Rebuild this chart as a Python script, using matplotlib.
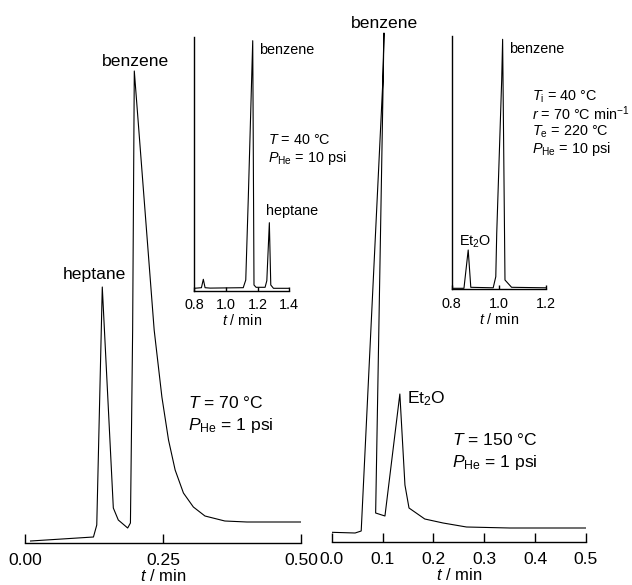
import matplotlib
matplotlib.use("Agg")
import matplotlib.pyplot as plt

plt.rcParams['font.family'] = ['Liberation Sans', 'DejaVu Sans']
plt.rcParams['mathtext.fontset'] = 'custom'
plt.rcParams['mathtext.rm'] = 'Liberation Sans'
plt.rcParams['mathtext.it'] = 'Liberation Sans:italic'

# chromatogram traces (t in min, signal in arbitrary units)
t_70 = [0.01, 0.124, 0.130, 0.140, 0.160, 0.169, 0.186, 0.191, 0.195, 0.198,
        0.234, 0.248, 0.260, 0.272, 0.287, 0.305, 0.326, 0.362, 0.402, 0.50]
s_70 = [2, 6, 18, 256, 35, 23, 15, 20, 213, 472,
        213, 146, 103, 73, 50, 36, 27, 22, 21, 21]

t_150 = [0.0, 0.046, 0.058, 0.1002, 0.1028, 0.0864, 0.1047, 0.134, 0.144,
         0.152, 0.183, 0.219, 0.265, 0.350, 0.50]
s_150 = [9.7, 9, 11, 457, 509, 29, 26, 148, 57,
         34, 23, 19, 15, 14, 14]

t_40 = [0.80, 0.845, 0.857, 0.868, 0.90, 1.109, 1.125, 1.141, 1.169, 1.177,
        1.19, 1.247, 1.258, 1.274, 1.283, 1.30, 1.40]
s_40 = [2.4, 3, 11.4, 3, 2.6, 3, 10.7, 92.7, 250, 5.7,
        3.4, 3.4, 10, 68, 5.7, 2.4, 2.4]

t_ramp = [0.80, 0.852, 0.870, 0.881, 0.976, 0.987, 0.991, 1.012, 1.016, 1.026,
          1.054, 1.20]
s_ramp = [1, 1, 39.3, 2, 1.5, 12.6, 56, 209, 250, 9.3,
          2, 1.5]

ticks_70 = [0.0, 0.25, 0.5]
labels_70 = ['0.00', '0.25', '0.50']
ticks_150 = [0.0, 0.1, 0.2, 0.3, 0.4, 0.5]
ticks_40 = [0.8, 1.0, 1.2, 1.4]
ticks_ramp = [0.8, 1.0, 1.2]

BIG = 12.6
SMALL = 10.4


def style_main(ax, ticks, labels):
    for s in ['left', 'right', 'top']:
        ax.spines[s].set_visible(False)
    ax.spines['bottom'].set_linewidth(1.0)
    ax.set_yticks([])
    ax.set_xticks(ticks)
    ax.set_xticklabels(labels)
    ax.tick_params(axis='x', direction='in', length=6.5, width=1.0,
                   labelsize=BIG, pad=7.5)
    ax.set_xlabel(r'$t$ / min', fontsize=12, labelpad=-0.5)
    ax.patch.set_alpha(0)


def style_inset(ax, ticks):
    for s in ['right', 'top']:
        ax.spines[s].set_visible(False)
    ax.spines['bottom'].set_linewidth(1.0)
    ax.spines['left'].set_linewidth(1.0)
    ax.set_yticks([])
    ax.set_xticks(ticks)
    ax.set_xticklabels(['%.1f' % v for v in ticks])
    ax.tick_params(axis='x', direction='in', length=3, width=1.0,
                   labelsize=SMALL, pad=5.5)
    ax.set_xlabel(r'$t$ / min', fontsize=SMALL, labelpad=0.5)
    ax.patch.set_alpha(0)


fig = plt.figure(figsize=(6.32, 5.85), dpi=100)

# left main: 70 C isothermal
ax1 = fig.add_axes([25 / 632, 42 / 585, 276 / 632, 503 / 585])
ax1.plot(t_70, s_70, color='black', lw=0.8)
ax1.set_xlim(0, 0.5)
ax1.set_ylim(0, 503)
style_main(ax1, ticks_70, labels_70)
ax1.text(0.200, 477, 'benzene', fontsize=BIG, ha='center', va='baseline')
ax1.text(0.125, 264, 'heptane', fontsize=BIG, ha='center', va='baseline')
ax1.text(0.296, 135, r'$T$ = 70 °C', fontsize=BIG, ha='left', va='baseline')
ax1.text(0.296, 113, r'$P_{\mathrm{He}}$ = 1 psi', fontsize=BIG, ha='left', va='baseline')

# right main: 150 C isothermal
ax2 = fig.add_axes([331.7 / 632, 43 / 585, 254.3 / 632, 522 / 585])
ax2.plot(t_150, s_150, color='black', lw=0.8)
ax2.set_xlim(0, 0.5)
ax2.set_ylim(0, 522)
style_main(ax2, ticks_150, ['%.1f' % v for v in ticks_150])
ax2.text(0.1037, 514, 'benzene', fontsize=BIG, ha='center', va='baseline')
ax2.text(0.149, 139, r'Et$_{2}$O', fontsize=BIG, ha='left', va='baseline')
ax2.text(0.236, 97, r'$T$ = 150 °C', fontsize=BIG, ha='left', va='baseline')
ax2.text(0.236, 75, r'$P_{\mathrm{He}}$ = 1 psi', fontsize=BIG, ha='left', va='baseline')

# left inset: 40 C
ax3 = fig.add_axes([194.3 / 632, 294.3 / 585, 95 / 632, 253.4 / 585])
ax3.plot(t_40, s_40, color='black', lw=0.8)
ax3.set_xlim(0.8, 1.4)
ax3.set_ylim(0, 253.4)
style_inset(ax3, ticks_40)
ax3.text(1.209, 237, 'benzene', fontsize=SMALL, ha='left', va='baseline')
ax3.text(1.253, 76, 'heptane', fontsize=SMALL, ha='left', va='baseline')
ax3.text(1.267, 147, r'$T$ = 40 °C', fontsize=SMALL, ha='left', va='baseline')
ax3.text(1.267, 129, r'$P_{\mathrm{He}}$ = 10 psi', fontsize=SMALL, ha='left', va='baseline')

# right inset: temperature ramp
ax4 = fig.add_axes([451.7 / 632, 295.7 / 585, 94.3 / 632, 253.3 / 585])
ax4.plot(t_ramp, s_ramp, color='black', lw=0.8)
ax4.set_xlim(0.8, 1.2)
ax4.set_ylim(0, 253.3)
style_inset(ax4, ticks_ramp)
ax4.text(1.043, 236, 'benzene', fontsize=SMALL, ha='left', va='baseline')
ax4.text(0.832, 44, r'Et$_{2}$O', fontsize=SMALL, ha='left', va='baseline')
ramp_text = '\n'.join([r'$T_{\mathrm{i}}$ = 40 °C',
                       r'$r$ = 70 °C min$^{-1}$',
                       r'$T_{\mathrm{e}}$ = 220 °C',
                       r'$P_{\mathrm{He}}$ = 10 psi'])
ax4.text(1.139, 201, ramp_text, fontsize=SMALL, ha='left', va='top',
         linespacing=1.0)

fig.savefig('out.png', dpi=100)
